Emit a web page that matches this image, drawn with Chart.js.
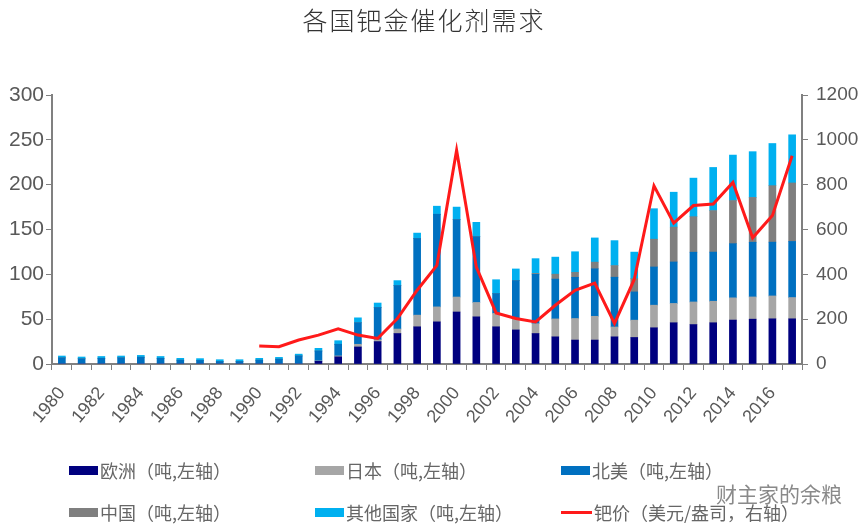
<!DOCTYPE html>
<html>
<head>
<meta charset="utf-8">
<script src="https://cdn.jsdelivr.net/npm/chart.js@4.4.1/dist/chart.umd.min.js"></script>
<style>
  html, body { margin:0; padding:0; background:#fff; }
  #wrap { position:relative; width:866px; height:529px; overflow:hidden; background:#fff; }
  #c { position:absolute; left:0; top:0; }
  #title { position:absolute; left:0; width:848px; top:1px; text-align:center; font-family:"Noto Sans CJK SC", sans-serif; font-size:25px; font-weight:300; letter-spacing:2px; color:#333; }
  .lg { position:absolute; height:24px; display:flex; align-items:center; font-family:"Noto Sans CJK SC", sans-serif; font-size:18px; color:#666; white-space:nowrap; }
  .sw { display:inline-block; width:29px; height:9px; margin-right:2px; }
  .swl { display:inline-block; width:31px; height:3px; margin-right:2px; }
  #wm { position:absolute; left:716px; top:478px; font-family:"Noto Sans CJK SC", sans-serif; font-size:21px; color:#8a8a8a; }
</style>
</head>
<body>
<div id="wrap">
  <canvas id="c" width="866" height="529"></canvas>
  <div id="title">各国钯金催化剂需求</div>
  <div id="legend"></div>
  <div id="wm">财主家的余粮</div>
</div>
<script>
const titleText = "各国钯金催化剂需求";
const years = ["1980","1981","1982","1983","1984","1985","1986","1987","1988","1989",
  "1990","1991","1992","1993","1994","1995","1996","1997","1998","1999",
  "2000","2001","2002","2003","2004","2005","2006","2007","2008","2009",
  "2010","2011","2012","2013","2014","2015","2016","2017"];
const seriesNames = ["欧洲（吨,左轴）","日本（吨,左轴）","北美（吨,左轴）","中国（吨,左轴）","其他国家（吨,左轴）","钯价（美元/盎司，右轴）"];
const europe = [0,0,0,0,0,0,0,0,0,0,0,0,0,
  3,8,19,25,34,41.5,47,58,52.6,41.5,38,34,30.3,26.7,26.7,30.3,29.6,40.4,46,44,46,49,50,50.4,50.4];
const japan = [0,0,0,0,0,0,0,0,0,0,0,0,0,
  0.5,1,3,2,5,13,16.7,16.7,16,15,13,11,20,24,26.5,11,19.3,25.2,21.5,25.2,24,24.8,24.8,25.5,23.7];
const northAmerica = [6.9,5.8,6.4,6.9,7.6,6.4,4.3,4,2.8,2.8,4.3,5.4,9,
  11,13,24,36,48.5,85.5,103.3,86.3,73.4,22,42,55,44.4,46,53,55.5,31.5,42.6,46.3,55.5,54.8,60.4,61,60,62.6];
const china = [0,0,0,0,0,0,0,0,0,0,0,0,0,
  0,0,0,0,0,0,0,0,0,0,0,1,5.5,5.5,7.4,13,14.8,31,38.9,39.6,46.3,48.1,50,63,65.2];
const others = [2,2,2,2,2,2,2,2,2,2,2,2,2,
  3,4,5.5,5,5.5,6,9,14,16,15.5,13,16.5,19,23,27,27.8,29.6,34,38.9,43,48.1,50.7,51,47,53.7];
const price = [null,null,null,null,null,null,null,null,null,null,
  80,77,107,129,157,129,114,203,329,440,954,432,228,203,188,262,329,361,181,377,795,628,707,714,810,563,662,929];
const leftTicks = [0,50,100,150,200,250,300];
const rightTicks = [0,200,400,600,800,1000,1200];

const colors = ["#00007f","#a6a6a6","#0070c0","#7f7f7f","#00b0f0","#ff1a1a"];
document.getElementById('title').textContent = titleText;

// HTML legend
const legendPos = [[69,458],[315,458],[561,458],[69,500],[315,500],[561,500]];
const lg = document.getElementById('legend');
seriesNames.forEach((n,i)=>{
  const d = document.createElement('div');
  d.className='lg';
  d.style.left = legendPos[i][0]+'px';
  d.style.top = legendPos[i][1]+'px';
  const s = document.createElement('span');
  s.className = i===5 ? 'swl' : 'sw';
  s.style.background = colors[i];
  d.appendChild(s);
  const t = document.createElement('span');
  t.textContent = n;
  d.appendChild(t);
  lg.appendChild(d);
});

const barSets = [europe, japan, northAmerica, china, others].map((arr,i)=>({
  type:'bar', label:seriesNames[i], data:arr, backgroundColor:colors[i],
  yAxisID:'y', stack:'s', order:1, barThickness:7
}));
const lineSet = {
  type:'line', label:seriesNames[5], data:price, yAxisID:'y1',
  borderColor:colors[5], borderWidth:3, pointRadius:0, tension:0, order:0, spanGaps:false
};

const fam = '"Liberation Sans", Arial, sans-serif';
new Chart(document.getElementById('c'), {
  type:'bar',
  data:{ labels: years, datasets:[...barSets, lineSet] },
  options:{
    responsive:false, animation:false,
    plugins:{ legend:{display:false}, title:{display:false}, tooltip:{enabled:false} },
    layout:{ padding:{ top:95, bottom:95, left:0, right:0 } },
    scales:{
      x:{
        stacked:true,
        grid:{ offset:true, drawOnChartArea:false, drawTicks:true, tickLength:6, color:'#808080', lineWidth:1 },
        border:{ color:'#808080', width:2 },
        ticks:{ autoSkip:false, maxRotation:50, minRotation:50, padding:13, color:'#595959',
          font:{family:fam, size:18},
          callback:(v,i)=> (i%2===0 ? years[i] : '') },
        afterFit:(s)=>{ s.height = 70; }
      },
      y:{
        position:'left', stacked:true,
        min:leftTicks[0], max:leftTicks[leftTicks.length-1],
        afterBuildTicks:(s)=>{ s.ticks = leftTicks.map(v=>({value:v})); },
        grid:{ drawOnChartArea:false, drawTicks:true, tickLength:6, color:'#808080' },
        border:{ color:'#808080', width:2 },
        ticks:{ padding:2, color:'#595959', font:{family:fam, size:21}, callback:(v)=>String(v) },
        afterFit:(s)=>{ s.width = 52; }
      },
      y1:{
        position:'right',
        min:rightTicks[0], max:rightTicks[rightTicks.length-1],
        afterBuildTicks:(s)=>{ s.ticks = rightTicks.map(v=>({value:v})); },
        grid:{ drawOnChartArea:false, drawTicks:true, tickLength:6, color:'#808080' },
        border:{ color:'#808080', width:2 },
        ticks:{ padding:8, color:'#595959', font:{family:fam, size:19}, callback:(v)=>String(v) },
        afterFit:(s)=>{ s.width = 64; }
      }
    }
  }
});
</script>
</body>
</html>
